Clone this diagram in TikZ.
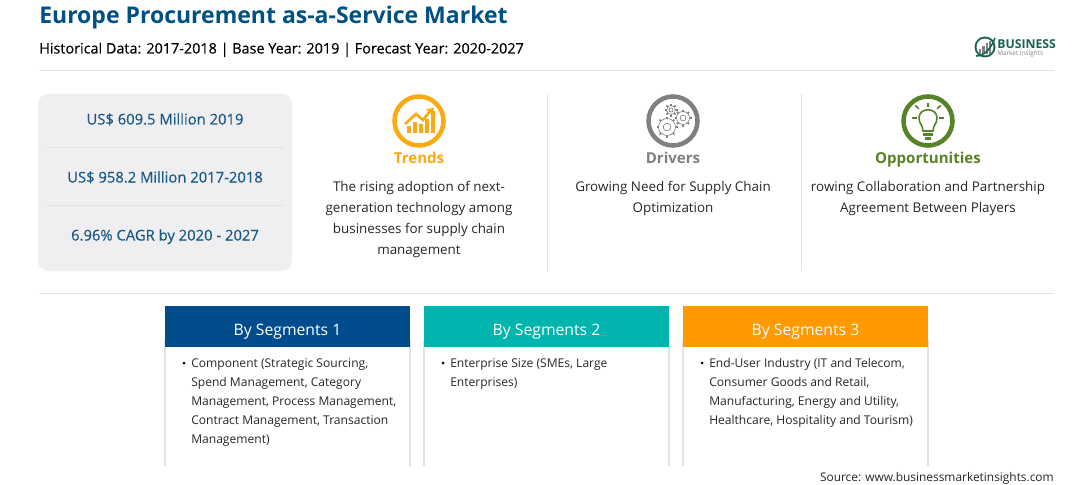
\documentclass[tikz,border=0pt]{standalone}
\usepackage{fontspec}
\setmainfont{Open Sans}
\newfontfamily\semifont[FakeBold=0.3]{Open Sans}
\definecolor{titleblue}{RGB}{0,80,130}
\definecolor{statblue}{RGB}{24,90,135}
\definecolor{panelgray}{RGB}{239,238,240}
\definecolor{ruleline}{RGB}{226,226,226}
\definecolor{segblue}{RGB}{0,76,140}
\definecolor{segteal}{RGB}{0,181,173}
\definecolor{segorange}{RGB}{255,153,0}
\definecolor{trendcol}{RGB}{252,170,20}
\definecolor{drivecol}{RGB}{128,128,128}
\definecolor{oppcol}{RGB}{88,130,40}
\definecolor{logogreen}{RGB}{22,100,80}
\tikzset{
  stattext/.style={text=statblue,font=\semifont\fontsize{11.1}{13}\selectfont,anchor=base,inner sep=0pt},
  headtext/.style={font=\fontsize{11.3}{14}\selectfont\bfseries,anchor=base,inner sep=0pt},
  bodytext/.style={font=\fontsize{10.05}{15.8}\selectfont,align=center,anchor=north,inner sep=0pt,text=black!85},
  segtext/.style={font=\fontsize{9.05}{14.25}\selectfont,align=left,anchor=north west,inner sep=0pt,text=black!85},
  seghead/.style={font=\fontsize{11.8}{14}\selectfont,text=white,anchor=base,inner sep=0pt},
  divider/.style={draw=ruleline,line width=0.75pt},
}
\begin{document}
\begin{tikzpicture}[x=0.75pt,y=0.75pt,yscale=-1,xscale=1]
\useasboundingbox (0,0) rectangle (1092,485);

% title block
\node [anchor=base west,inner sep=0pt,text=titleblue,font=\fontsize{17.25}{20}\selectfont\bfseries] (title) at (39,24) {Europe Procurement as-a-Service Market};
\node [anchor=base west,inner sep=0pt,font=\semifont\fontsize{10.8}{13}\selectfont] (subtitle) at (39,53.5) {Historical Data: 2017-2018 | Base Year: 2019 | Forecast Year: 2020-2027};

% logo
\fill [logogreen] (985,47) circle (10.5);
\fill [white] (985,47) circle (8.5);
\foreach \i/\h in {0/5,1/8,2/11,3/13}
  \fill [gray] (979+\i*3.3,54) rectangle +(2.2,-\h);
\draw [logogreen,line width=1.2pt] (976,56) .. controls (985,56) and (991,48) .. (995,38);
\node [anchor=base west,inner sep=0pt,text=logogreen,font=\fontsize{9.2}{10}\selectfont\bfseries] (logotop) at (997,49) {BUSINESS};
\node [anchor=base west,inner sep=0pt,text=gray,font=\fontsize{4.8}{5}\selectfont] (logobot) at (997,56) {Market Insights};

\draw [divider] (39,71) -- (1054,71);

% stats panel
\fill [panelgray,rounded corners=7.5] (38,94) rectangle (292,271);
\node [stattext] (stat1) at (165,124.5) {US\$ 609.5 Million 2019};
\node [stattext] (stat2) at (165,182.5) {US\$ 958.2 Million 2017-2018};
\node [stattext] (stat3) at (165,240.5) {6.96\% CAGR by 2020 - 2027};
\draw [divider] (46,147.5) -- (284,147.5);
\draw [divider] (47,205.5) -- (284,205.5);

% trends
\draw [trendcol,line width=3.4pt] (419,121) circle (24.5);
\foreach \x/\h in {407/7,413/11,419/9,425/14,431/22}
  \fill [trendcol] (\x,133) rectangle +(4,-\h);
\draw [trendcol,line width=2pt] (405,124) -- (416,114) -- (423,120) -- (431,110);
\fill [trendcol] (434,108) -- (426,109) -- (432,115) -- cycle;
\node [headtext,text=trendcol] (trends) at (419,163) {Trends};
\node [bodytext] (trendsbody) at (419,181) {The rising adoption of next-\\generation technology among\\businesses for supply chain\\management};

\draw [divider] (547,94) -- (547,271);

% drivers
\draw [drivecol,line width=3.4pt] (673,121) circle (24.5);
\foreach \cx/\cy/\r in {667/127/8.5,683/118/6.5,671/110/4.5}{
  \draw [drivecol,line width=0.5pt] (\cx,\cy) circle (\r*0.45);
  \draw [drivecol,line width=0.5pt] (\cx,\cy) circle (\r);
  \foreach \a in {0,45,...,315}
    \draw [drivecol,line width=1.1pt] (\cx,\cy) ++(\a:\r) -- ++(\a:2);
}
\node [headtext,text=drivecol] (drivers) at (673,163) {Drivers};
\node [bodytext] (driversbody) at (673,181) {Growing Need for Supply Chain\\Optimization};

\draw [divider] (801,94) -- (801,271);

% opportunities
\draw [oppcol,line width=3.4pt] (928,121) circle (24.5);
\draw [oppcol,line width=1.2pt] (923,131) .. controls (923,125) and (919,124) .. (919,118) .. controls (919,107) and (937,107) .. (937,118) .. controls (937,124) and (933,125) .. (933,131) -- cycle;
\fill [oppcol] (923,133) rectangle (933,136);
\fill [oppcol] (925,137) rectangle (931,140);
\foreach \a/\ra/\rb in {180/11/16,225/13/18,270/11/15,315/13/18,360/11/16}
  \draw [oppcol,line width=1.3pt] (928,118) ++(\a:\ra) -- ++(\a:\rb-\ra);
\node [headtext,text=oppcol] (opps) at (928,163) {Opportunities};
\node [bodytext] (oppsbody) at (928,181) {rowing Collaboration and Partnership\\Agreement Between Players};

\draw [divider] (39,293.5) -- (1054,293.5);

% segments
\foreach \name/\xa/\col/\lab in {a/165/segblue/By Segments 1,b/424/segteal/By Segments 2,c/683/segorange/By Segments 3}{
  \draw [ruleline,line width=1pt] (\xa,340) -- (\xa,466) (\xa+245,340) -- (\xa+245,466);
  \fill [\col] (\xa,306) rectangle (\xa+245,347);
  \node [seghead] (head\name) at (\xa+122.5,335) {\lab};
  \fill (\xa+19,363) circle (1.5);
}
\node [segtext] (seg1) at (191,358) {Component (Strategic Sourcing,\\Spend Management, Category\\Management, Process Management,\\Contract Management, Transaction\\Management)};
\node [segtext] (seg2) at (450,358) {Enterprise Size (SMEs, Large\\Enterprises)};
\node [segtext] (seg3) at (709,358) {End-User Industry (IT and Telecom,\\Consumer Goods and Retail,\\Manufacturing, Energy and Utility,\\Healthcare, Hospitality and Tourism)};

\node [anchor=base east,inner sep=0pt,font=\fontsize{8.93}{11}\selectfont,text=black!85] (source) at (1054,481) {Source: www.businessmarketinsights.com};
\end{tikzpicture}
\end{document}
